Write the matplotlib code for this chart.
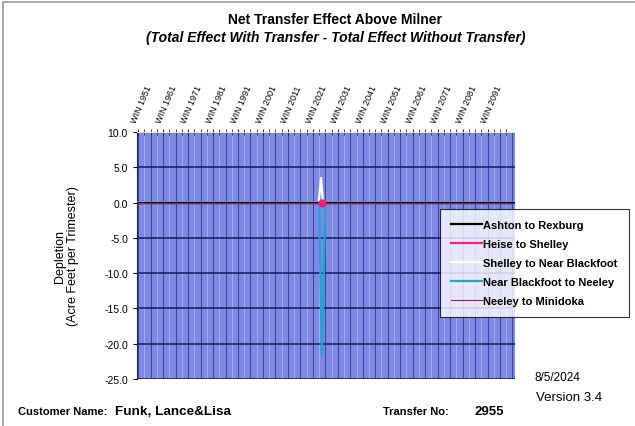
import matplotlib
matplotlib.use("Agg")
import matplotlib.pyplot as plt
from matplotlib.patches import Rectangle

plt.rcParams['font.family'] = ['Liberation Sans', 'DejaVu Sans']

# x positions (years) and series values
x_start, x_end = 1951, 2102
years_ashton = [x_start, x_end]
ashton = [0.0, 0.0]
years_heise = [x_start, 2024.6, x_end]
heise = [0.0, 0.0, 0.0]
years_shelley = [x_start, 2023.3, 2024.3, 2025.0, x_end]
shelley = [0.0, 0.0, 3.5, 0.0, 0.0]
years_blackfoot = [x_start, 2023.5, 2024.6, 2026.0, x_end]
blackfoot = [0.0, 0.0, -21.7, 0.0, 0.0]
years_neeley = [x_start, x_end]
neeley = [0.0, 0.0]

tick_years = list(range(1951, 2092, 10))
tick_labels = ['WIN %d' % y for y in tick_years]
y_ticks = [10, 5, 0, -5, -10, -15, -20, -25]

fig = plt.figure(figsize=(6.35, 4.27), dpi=100)
ax = fig.add_axes([0.2157, 0.110, 0.811 - 0.2157, 0.6885 - 0.110])
ax.set_facecolor('#7d89e3')

# grid
for gx in range(1951, x_end, 5):
    ax.axvline(gx, color='#2a2f8a', lw=0.7, alpha=0.8, zorder=1)
    ax.axvline(gx + 2.5, color='#c8cdf5', lw=0.6, alpha=0.6, zorder=1)
for gy in y_ticks:
    ax.axhline(gy, color='#151a5a', lw=1.1, zorder=1)

ax.plot(years_heise, heise, color='#ff1f7a', lw=1.6, label='Heise to Shelley', zorder=2)
ax.plot(years_heise[1:2], heise[1:2], color='#ff1f7a', marker='o', markersize=5,
        ls='none', label='_nolegend_', zorder=5)
ax.plot(years_shelley, shelley, color='white', lw=1.6, label='Shelley to Near Blackfoot', zorder=3)
ax.plot(years_blackfoot, blackfoot, color='#1ea5d2', lw=1.6, label='Near Blackfoot to Neeley', zorder=3)
ax.plot(years_ashton, ashton, color='black', lw=1.6, label='Ashton to Rexburg', zorder=4)
ax.plot(years_neeley, neeley, color='#8a1d6e', lw=0.8, label='Neeley to Minidoka', zorder=4)

ax.set_xlim(x_start - 0.5, x_end)
ax.set_ylim(-25, 10)
ax.set_yticks(y_ticks)
ax.set_yticklabels(['%.1f' % v for v in y_ticks], fontsize=7.5)
ax.tick_params(axis='y', length=3, direction='out')

ax.xaxis.tick_top()
ax.set_xticks(tick_years)
ax.set_xticks([y + 2.5 * k for y in tick_years for k in (1, 2, 3)], minor=True)
ax.set_xticklabels(tick_labels, rotation=67, fontsize=6.5, ha='left', va='bottom',
                   rotation_mode='anchor')
ax.tick_params(axis='x', which='both', direction='inout', length=4, pad=4, color='#222244')

for s in ['right', 'bottom']:
    ax.spines[s].set_visible(False)
ax.spines['top'].set_color('#e8e4b0')
ax.spines['left'].set_color('#222244')

ax.set_ylabel('Depletion\n(Acre Feet per Trimester)', fontsize=9, labelpad=18, linespacing=1.1)

fig.text(0.528, 0.953, 'Net Transfer Effect Above Milner', ha='center', va='center',
         fontsize=10, fontweight='bold')
fig.text(0.528, 0.910, '(Total Effect With Transfer - Total Effect Without Transfer)',
         ha='center', va='center', fontsize=10, fontweight='bold', style='italic')

handles, labels = ax.get_legend_handles_labels()
order = ['Ashton to Rexburg', 'Heise to Shelley', 'Shelley to Near Blackfoot',
         'Near Blackfoot to Neeley', 'Neeley to Minidoka']
hmap = dict(zip(labels, handles))
leg = fig.legend([hmap[k] for k in order], order, loc='upper left',
                 bbox_to_anchor=(0.693, 0.508),
                 prop={'weight': 'bold', 'size': 8}, frameon=True, fancybox=False,
                 edgecolor='black', handlelength=2.8, handletextpad=0.1,
                 labelspacing=0.8, borderpad=1.0, borderaxespad=0)
leg.get_frame().set_linewidth(0.8)

fig.text(0.841, 0.115, '8/5/2024', ha='left', va='center', fontsize=8.5)
fig.text(0.844, 0.068, 'Version 3.4', ha='left', va='center', fontsize=9.5)
fig.text(0.028, 0.035, 'Customer Name:', ha='left', va='center', fontsize=8, fontweight='bold')
fig.text(0.181, 0.035, 'Funk, Lance&Lisa', ha='left', va='center', fontsize=9.7, fontweight='bold')
fig.text(0.603, 0.035, 'Transfer No:', ha='left', va='center', fontsize=8, fontweight='bold')
fig.text(0.748, 0.035, '2955', ha='left', va='center', fontsize=9.5, fontweight='bold')

fig.patches.append(Rectangle((0.004, -0.05), 1.2, 1.042, transform=fig.transFigure,
                             fill=False, edgecolor='#999999', lw=1.2))

fig.savefig('out.png', dpi=100)
